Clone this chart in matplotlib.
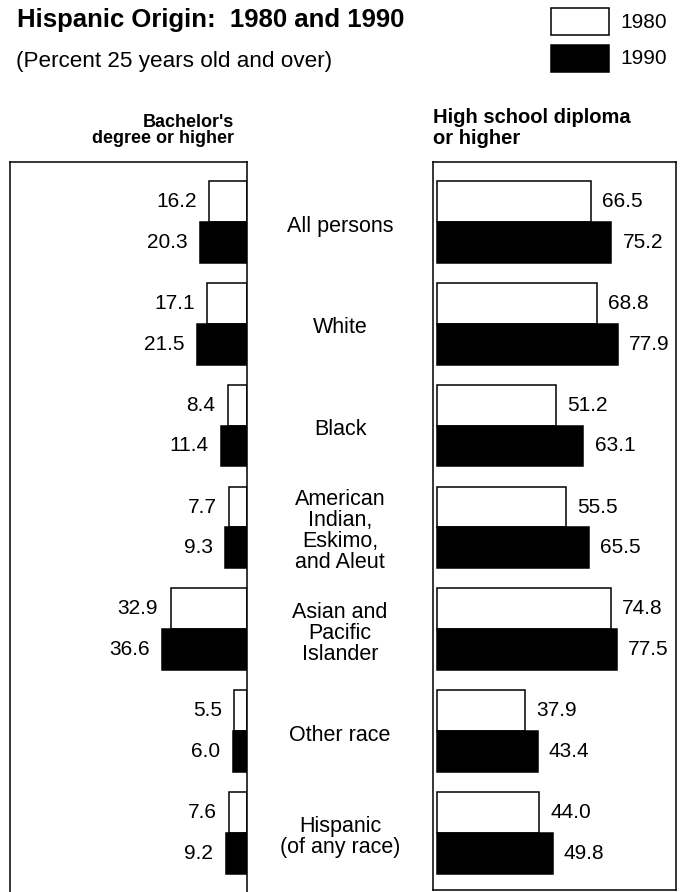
import matplotlib
matplotlib.use("Agg")
import matplotlib.pyplot as plt
from matplotlib.patches import Rectangle
import matplotlib.transforms as mtransforms

plt.rcParams['font.family'] = ['Liberation Sans', 'DejaVu Sans']

categories = ["All persons", "White", "Black",
              "American\nIndian,\nEskimo,\nand Aleut",
              "Asian and\nPacific\nIslander", "Other race",
              "Hispanic\n(of any race)"]
bach_1980 = [16.2, 17.1, 8.4, 7.7, 32.9, 5.5, 7.6]
bach_1990 = [20.3, 21.5, 11.4, 9.3, 36.6, 6.0, 9.2]
hs_1980 = [66.5, 68.8, 51.2, 55.5, 74.8, 37.9, 44.0]
hs_1990 = [75.2, 77.9, 63.1, 65.5, 77.5, 43.4, 49.8]
years = ["1980", "1990"]

W, H = 681, 892
fig = plt.figure(figsize=(W / 100, H / 100), dpi=100)


def fx(x):
    return x / W


def fy(y):
    return 1 - y / H


# geometry (pixels)
top_px = 162
row0 = 222.0
row_step = 101.8
scale = 2.32  # px per percent

# left panel
ax1 = fig.add_axes([fx(10), 0, fx(247) - fx(10), 1 - top_px / H])
ax1.set_ylim((H - row0) / row_step, (top_px - row0) / row_step)
ax1.set_xlim(237 / scale, 0)
# right panel
ax2 = fig.add_axes([fx(433), fy(890), fx(676) - fx(433), (890 - top_px) / H])
ax2.set_ylim((890 - row0) / row_step, (top_px - row0) / row_step)
ax2.set_xlim(-4 / scale, (676 - 437) / scale)

bh = 0.4
ys = list(range(len(categories)))
y80 = [y - bh / 2 for y in ys]
y90 = [y + bh / 2 for y in ys]

for ax, v80, v90, side in [(ax1, bach_1980, bach_1990, 'left'),
                           (ax2, hs_1980, hs_1990, 'right')]:
    ax.barh(y80, v80, height=bh, color='white', edgecolor='black', linewidth=1.1)
    ax.barh(y90, v90, height=bh, color='black', edgecolor='black', linewidth=1.1)
    for vals, yy in [(v80, y80), (v90, y90)]:
        for v, y in zip(vals, yy):
            if side == 'left':
                ax.annotate(f"{v:.1f}", (v, y), xytext=(-9, 0), textcoords='offset points',
                            ha='right', va='center', fontsize=15)
            else:
                ax.annotate(f"{v:.1f}", (v, y), xytext=(8, 0), textcoords='offset points',
                            ha='left', va='center', fontsize=15)
    ax.set_xticks([])
    ax.set_yticks([])
    for s in ax.spines.values():
        s.set_linewidth(1.1)

ax1.spines['bottom'].set_visible(False)

# category labels between panels
trans = mtransforms.blended_transform_factory(fig.transFigure, ax2.transData)
for y, c in zip(ys, categories):
    fig.text(fx(340), y + 0.04, c, transform=trans, ha='center', va='center',
             fontsize=15.5, linespacing=1.0)

# title, subtitle
fig.text(fx(17), fy(27), "Hispanic Origin:  1980 and 1990", fontsize=18.5,
         fontweight='bold', ha='left', va='baseline')
fig.text(fx(16), fy(67), "(Percent 25 years old and over)", fontsize=16.2,
         ha='left', va='baseline')

# legend
fig.patches.append(Rectangle((fx(551), fy(35)), fx(609) - fx(551), (35 - 8) / H,
                             transform=fig.transFigure, facecolor='white',
                             edgecolor='black', linewidth=1.1))
fig.patches.append(Rectangle((fx(551), fy(72)), fx(609) - fx(551), (72 - 45) / H,
                             transform=fig.transFigure, facecolor='black',
                             edgecolor='black', linewidth=1.1))
fig.text(fx(620), fy(22), years[0], fontsize=15, ha='left', va='center')
fig.text(fx(620), fy(59), years[1], fontsize=15, ha='left', va='center')

# panel headers
fig.text(fx(234), fy(127), "Bachelor's", fontsize=13, fontweight='bold',
         ha='right', va='baseline')
fig.text(fx(234), fy(143), "degree or higher", fontsize=13, fontweight='bold',
         ha='right', va='baseline')
fig.text(fx(433), fy(123), "High school diploma", fontsize=14.5, fontweight='bold',
         ha='left', va='baseline')
fig.text(fx(433), fy(144), "or higher", fontsize=14.5, fontweight='bold',
         ha='left', va='baseline')

fig.savefig("out.png", dpi=100)
